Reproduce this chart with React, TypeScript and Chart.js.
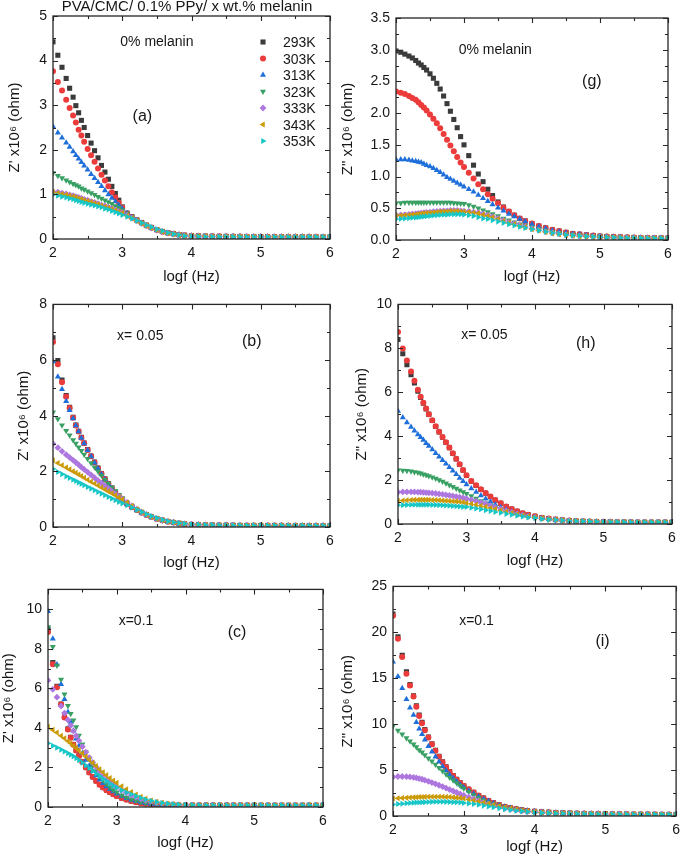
import React, { useEffect, useRef } from "react";
import { Chart, registerables } from "chart.js";
import { drawPoint } from "chart.js/helpers";

Chart.register(...registerables);

const FONT = "'Liberation Sans', Arial, Helvetica, sans-serif";
const INK = "#161616";
const AXIS = "#262626";

// log frequency (x) sample positions shared by all series
const LOGF = [2.0, 2.07, 2.13, 2.19, 2.24, 2.29, 2.33, 2.37, 2.41, 2.45, 2.5, 2.55, 2.6, 2.65, 2.7, 2.75, 2.8, 2.85, 2.9, 2.95, 3.0,
  3.07, 3.14, 3.21, 3.28, 3.35, 3.42, 3.5, 3.58, 3.66, 3.74, 3.82, 3.9,
  4.0, 4.1, 4.2, 4.3, 4.4, 4.5, 4.6, 4.7, 4.8, 4.9, 5.0, 5.1, 5.2, 5.3, 5.4, 5.5, 5.6, 5.7, 5.8, 5.9, 6.0];

const TEMPS = ["293K", "303K", "313K", "323K", "333K", "343K", "353K"];

// (a) Z' 0% melanin
const a293 = [4.42,4.12,3.85,3.6,3.38,3.18,2.99,2.83,2.66,2.5,2.32,2.15,1.98,1.82,1.65,1.5,1.34,1.18,1.02,0.87,0.72, 0.58,0.5,0.43,0.37,0.31,0.26,0.21,0.17,0.14,0.12,0.1,0.085, 0.075,0.07,0.065,0.062,0.06,0.058,0.056,0.055,0.054,0.053,0.052,0.051,0.05,0.05,0.05,0.05,0.049,0.049,0.048,0.048,0.048];
const a303 = [3.76,3.52,3.33,3.12,2.94,2.77,2.61,2.45,2.32,2.18,2.02,1.88,1.73,1.58,1.44,1.31,1.18,1.05,0.93,0.81,0.7, 0.57,0.49,0.42,0.36,0.3,0.25,0.2,0.165,0.135,0.115,0.095,0.082, 0.073,0.068,0.064,0.061,0.059,0.057,0.055,0.054,0.053,0.052,0.051,0.05,0.05,0.049,0.049,0.049,0.048,0.048,0.048,0.047,0.047];
const a313 = [2.52,2.38,2.27,2.16,2.06,1.96,1.88,1.8,1.72,1.64,1.55,1.45,1.36,1.27,1.18,1.09,1.0,0.92,0.84,0.76,0.68, 0.57,0.49,0.42,0.36,0.3,0.25,0.2,0.165,0.135,0.11,0.095,0.08, 0.072,0.067,0.063,0.06,0.058,0.056,0.055,0.054,0.053,0.052,0.051,0.05,0.05,0.049,0.049,0.048,0.048,0.048,0.047,0.047,0.047];
const a323 = [1.48,1.42,1.37,1.32,1.28,1.24,1.21,1.18,1.14,1.11,1.07,1.03,0.99,0.95,0.91,0.87,0.83,0.79,0.74,0.7,0.65, 0.57,0.49,0.42,0.36,0.3,0.25,0.2,0.165,0.135,0.11,0.09,0.08, 0.07,0.066,0.062,0.06,0.058,0.056,0.055,0.054,0.053,0.052,0.051,0.05,0.05,0.049,0.049,0.048,0.048,0.048,0.047,0.047,0.047];
const a333 = [1.06,1.05,1.03,1.01,0.99,0.97,0.95,0.93,0.91,0.89,0.87,0.84,0.82,0.79,0.76,0.74,0.71,0.68,0.65,0.62,0.59, 0.53,0.47,0.41,0.35,0.3,0.25,0.2,0.16,0.13,0.11,0.09,0.08, 0.07,0.065,0.061,0.058,0.056,0.055,0.054,0.053,0.052,0.051,0.05,0.05,0.049,0.049,0.048,0.048,0.048,0.047,0.047,0.047,0.046];
const a343 = [1.04,1.03,1.01,0.99,0.97,0.95,0.93,0.91,0.89,0.87,0.85,0.83,0.8,0.78,0.75,0.72,0.7,0.67,0.64,0.61,0.58, 0.52,0.47,0.41,0.35,0.3,0.25,0.2,0.16,0.13,0.11,0.09,0.08, 0.07,0.065,0.061,0.058,0.056,0.055,0.054,0.053,0.052,0.051,0.05,0.05,0.049,0.049,0.048,0.048,0.048,0.047,0.047,0.047,0.046];
const a353 = [0.99,0.97,0.95,0.93,0.91,0.89,0.87,0.85,0.83,0.81,0.79,0.77,0.75,0.73,0.71,0.68,0.66,0.63,0.6,0.57,0.54, 0.5,0.46,0.41,0.36,0.31,0.27,0.22,0.18,0.14,0.11,0.09,0.07, 0.06,0.055,0.052,0.05,0.049,0.048,0.047,0.046,0.046,0.045,0.045,0.045,0.044,0.044,0.044,0.044,0.043,0.043,0.043,0.043,0.043];

// (g) Z'' 0% melanin
const g293 = [2.98,2.96,2.93,2.9,2.87,2.83,2.79,2.76,2.72,2.68,2.62,2.55,2.47,2.38,2.27,2.15,2.03,1.9,1.77,1.63,1.5, 1.33,1.18,1.04,0.92,0.8,0.7,0.6,0.52,0.45,0.39,0.34,0.3, 0.26,0.22,0.19,0.16,0.14,0.12,0.1,0.09,0.08,0.07,0.06,0.055,0.05,0.046,0.042,0.04,0.037,0.035,0.033,0.031,0.03];
const g303 = [2.34,2.32,2.3,2.27,2.24,2.21,2.17,2.13,2.09,2.04,1.98,1.91,1.84,1.76,1.67,1.58,1.49,1.4,1.31,1.22,1.15, 1.06,0.97,0.88,0.8,0.72,0.65,0.58,0.51,0.45,0.39,0.34,0.3, 0.26,0.22,0.19,0.16,0.14,0.12,0.1,0.09,0.08,0.07,0.06,0.055,0.05,0.046,0.042,0.04,0.037,0.035,0.033,0.031,0.03];
const g313 = [1.27,1.27,1.27,1.26,1.25,1.24,1.23,1.22,1.2,1.18,1.16,1.13,1.1,1.07,1.03,0.99,0.96,0.93,0.9,0.87,0.84, 0.8,0.76,0.71,0.66,0.61,0.56,0.51,0.46,0.41,0.37,0.33,0.29, 0.25,0.21,0.18,0.15,0.13,0.11,0.095,0.085,0.075,0.065,0.058,0.052,0.047,0.043,0.04,0.037,0.035,0.033,0.031,0.03,0.029];
const g323 = [0.58,0.585,0.59,0.59,0.59,0.59,0.59,0.59,0.59,0.59,0.59,0.59,0.59,0.59,0.59,0.59,0.59,0.585,0.58,0.575,0.57, 0.55,0.53,0.5,0.47,0.44,0.41,0.38,0.34,0.31,0.28,0.25,0.23, 0.2,0.17,0.15,0.13,0.11,0.095,0.085,0.075,0.065,0.058,0.052,0.047,0.043,0.04,0.037,0.035,0.033,0.031,0.03,0.029,0.028];
const g333 = [0.39,0.395,0.4,0.405,0.41,0.415,0.42,0.425,0.43,0.435,0.44,0.445,0.45,0.455,0.46,0.46,0.465,0.465,0.465,0.46,0.455, 0.45,0.44,0.43,0.41,0.39,0.37,0.34,0.31,0.28,0.26,0.23,0.21, 0.18,0.155,0.13,0.11,0.095,0.08,0.07,0.062,0.055,0.05,0.045,0.041,0.038,0.035,0.033,0.031,0.03,0.029,0.028,0.027,0.026];
const g343 = [0.38,0.385,0.39,0.395,0.4,0.405,0.41,0.415,0.42,0.425,0.43,0.435,0.44,0.445,0.45,0.45,0.455,0.455,0.455,0.45,0.445, 0.44,0.43,0.42,0.4,0.38,0.36,0.33,0.3,0.27,0.25,0.22,0.2, 0.17,0.15,0.125,0.105,0.09,0.078,0.068,0.06,0.054,0.049,0.044,0.04,0.037,0.035,0.033,0.031,0.03,0.029,0.028,0.027,0.026];
const g353 = [0.33,0.335,0.34,0.345,0.35,0.355,0.36,0.365,0.37,0.375,0.38,0.385,0.39,0.395,0.4,0.4,0.405,0.405,0.405,0.405,0.4, 0.39,0.38,0.36,0.34,0.33,0.31,0.29,0.27,0.25,0.23,0.21,0.19, 0.17,0.15,0.13,0.11,0.095,0.08,0.07,0.062,0.055,0.05,0.045,0.041,0.038,0.035,0.033,0.031,0.03,0.029,0.028,0.027,0.026];

// (b) Z' x = 0.05
const b293 = [6.8,5.98,5.28,4.72,4.3,3.94,3.66,3.44,3.22,3.02,2.78,2.55,2.33,2.12,1.92,1.73,1.56,1.4,1.25,1.11,0.98, 0.84,0.72,0.62,0.52,0.44,0.37,0.3,0.24,0.2,0.16,0.13,0.11, 0.09,0.08,0.072,0.066,0.062,0.059,0.057,0.055,0.054,0.053,0.052,0.051,0.05,0.05,0.049,0.049,0.048,0.048,0.047,0.047,0.047];
const b303 = [6.65,5.85,5.2,4.68,4.28,3.93,3.65,3.43,3.21,3.01,2.77,2.54,2.32,2.11,1.91,1.72,1.55,1.39,1.24,1.1,0.97, 0.83,0.71,0.61,0.51,0.43,0.36,0.29,0.24,0.19,0.16,0.13,0.11, 0.09,0.08,0.072,0.066,0.062,0.059,0.057,0.055,0.054,0.053,0.052,0.051,0.05,0.05,0.049,0.049,0.048,0.048,0.047,0.047,0.047];
const b313 = [5.95,5.4,4.95,4.52,4.2,3.9,3.65,3.43,3.2,3.0,2.76,2.53,2.31,2.1,1.9,1.71,1.54,1.38,1.23,1.1,0.97, 0.83,0.71,0.61,0.51,0.43,0.36,0.29,0.24,0.19,0.16,0.13,0.11, 0.09,0.08,0.072,0.066,0.062,0.059,0.057,0.055,0.054,0.053,0.052,0.051,0.05,0.05,0.049,0.049,0.048,0.048,0.047,0.047,0.047];
const b323 = [4.12,3.88,3.66,3.46,3.3,3.13,3.0,2.87,2.74,2.61,2.45,2.3,2.15,2.0,1.85,1.7,1.56,1.42,1.29,1.16,1.04, 0.88,0.75,0.63,0.53,0.44,0.37,0.3,0.24,0.2,0.16,0.13,0.11, 0.09,0.08,0.072,0.066,0.062,0.059,0.057,0.055,0.054,0.053,0.052,0.051,0.05,0.05,0.049,0.049,0.048,0.048,0.047,0.047,0.047];
const b333 = [2.99,2.85,2.72,2.6,2.5,2.4,2.32,2.24,2.15,2.07,1.97,1.87,1.77,1.67,1.57,1.47,1.38,1.28,1.19,1.1,1.01, 0.88,0.76,0.64,0.54,0.45,0.37,0.3,0.24,0.2,0.16,0.13,0.11, 0.09,0.08,0.072,0.066,0.062,0.059,0.057,0.055,0.054,0.053,0.052,0.051,0.05,0.05,0.049,0.049,0.048,0.048,0.047,0.047,0.047];
const b343 = [2.4,2.3,2.22,2.14,2.07,2.0,1.95,1.89,1.83,1.77,1.7,1.63,1.56,1.49,1.42,1.35,1.28,1.21,1.14,1.07,1.0, 0.88,0.76,0.64,0.54,0.45,0.37,0.3,0.24,0.2,0.16,0.13,0.11, 0.09,0.08,0.072,0.066,0.062,0.059,0.057,0.055,0.054,0.053,0.052,0.051,0.05,0.05,0.049,0.049,0.048,0.048,0.047,0.047,0.047];
const b353 = [2.08,1.98,1.9,1.82,1.76,1.7,1.65,1.6,1.55,1.5,1.44,1.38,1.32,1.26,1.2,1.14,1.08,1.02,0.96,0.9,0.85, 0.78,0.7,0.62,0.54,0.46,0.39,0.32,0.26,0.21,0.17,0.14,0.12, 0.1,0.085,0.075,0.068,0.063,0.06,0.058,0.056,0.055,0.054,0.053,0.052,0.051,0.05,0.05,0.049,0.049,0.048,0.048,0.048,0.047];

// (h) Z'' x = 0.05
const h293 = [8.4,7.75,7.25,6.8,6.42,6.05,5.76,5.5,5.24,4.99,4.71,4.44,4.19,3.95,3.71,3.47,3.21,2.96,2.71,2.45,2.21, 1.95,1.75,1.57,1.4,1.24,1.08,0.94,0.8,0.68,0.58,0.49,0.42, 0.35,0.29,0.25,0.21,0.18,0.16,0.14,0.125,0.115,0.105,0.1,0.095,0.09,0.087,0.084,0.082,0.08,0.078,0.076,0.075,0.074];
const h303 = [8.74,7.99,7.45,6.95,6.52,6.11,5.8,5.52,5.26,5.0,4.72,4.45,4.2,3.96,3.72,3.48,3.22,2.97,2.72,2.46,2.22, 1.96,1.76,1.58,1.41,1.25,1.09,0.94,0.8,0.68,0.58,0.49,0.42, 0.35,0.29,0.25,0.21,0.18,0.16,0.14,0.125,0.115,0.105,0.1,0.095,0.09,0.087,0.084,0.082,0.08,0.078,0.076,0.075,0.074];
const h313 = [5.15,4.85,4.62,4.42,4.25,4.08,3.95,3.82,3.68,3.55,3.39,3.22,3.06,2.9,2.74,2.58,2.42,2.26,2.1,1.95,1.8, 1.62,1.46,1.3,1.15,1.01,0.88,0.76,0.65,0.56,0.48,0.41,0.36, 0.31,0.26,0.22,0.19,0.17,0.15,0.13,0.12,0.11,0.1,0.095,0.09,0.087,0.084,0.082,0.08,0.078,0.076,0.075,0.074,0.073];
const h323 = [2.45,2.44,2.42,2.4,2.37,2.34,2.31,2.27,2.23,2.19,2.13,2.07,2.0,1.93,1.86,1.78,1.7,1.62,1.54,1.46,1.38, 1.27,1.16,1.05,0.95,0.85,0.76,0.67,0.58,0.51,0.45,0.4,0.35, 0.3,0.26,0.22,0.19,0.17,0.15,0.13,0.12,0.11,0.1,0.095,0.09,0.087,0.084,0.082,0.08,0.078,0.076,0.075,0.074,0.073];
const h333 = [1.45,1.46,1.46,1.46,1.46,1.45,1.45,1.44,1.43,1.42,1.41,1.39,1.37,1.35,1.33,1.3,1.28,1.25,1.22,1.19,1.15, 1.1,1.04,0.98,0.91,0.84,0.76,0.68,0.6,0.53,0.46,0.4,0.35, 0.3,0.26,0.22,0.19,0.17,0.15,0.13,0.12,0.11,0.1,0.095,0.09,0.087,0.084,0.082,0.08,0.078,0.076,0.075,0.074,0.073];
const h343 = [1.05,1.07,1.08,1.09,1.1,1.1,1.1,1.1,1.1,1.1,1.09,1.09,1.08,1.07,1.06,1.05,1.04,1.03,1.01,0.99,0.96, 0.92,0.88,0.83,0.78,0.73,0.68,0.62,0.56,0.5,0.44,0.39,0.34, 0.3,0.26,0.22,0.19,0.17,0.15,0.13,0.12,0.11,0.1,0.095,0.09,0.087,0.084,0.082,0.08,0.078,0.076,0.075,0.074,0.073];
const h353 = [0.85,0.86,0.87,0.88,0.88,0.88,0.88,0.88,0.88,0.88,0.87,0.87,0.86,0.85,0.84,0.83,0.82,0.81,0.8,0.78,0.77, 0.74,0.71,0.67,0.63,0.59,0.55,0.51,0.46,0.42,0.38,0.34,0.3, 0.27,0.23,0.2,0.18,0.16,0.14,0.13,0.12,0.11,0.1,0.095,0.09,0.087,0.084,0.082,0.08,0.078,0.076,0.075,0.074,0.073];

// (c) Z' x = 0.1
const c293 = [9.0,7.3,6.1,5.2,4.55,3.95,3.52,3.16,2.86,2.59,2.29,2.01,1.76,1.53,1.32,1.14,0.99,0.86,0.75,0.65,0.56, 0.46,0.38,0.31,0.25,0.2,0.17,0.14,0.12,0.11,0.1,0.095,0.09, 0.09,0.088,0.087,0.086,0.085,0.085,0.084,0.084,0.083,0.083,0.082,0.082,0.082,0.081,0.081,0.081,0.08,0.08,0.08,0.08,0.08];
const c303 = [8.85,7.22,6.05,5.18,4.52,3.92,3.5,3.15,2.85,2.58,2.28,2.0,1.75,1.52,1.31,1.13,0.98,0.85,0.74,0.64,0.55, 0.45,0.37,0.3,0.24,0.19,0.16,0.13,0.11,0.1,0.095,0.09,0.088, 0.09,0.088,0.087,0.086,0.085,0.085,0.084,0.084,0.083,0.083,0.082,0.082,0.082,0.081,0.081,0.081,0.08,0.08,0.08,0.08,0.08];
const c313 = [9.9,8.5,7.2,6.2,5.45,4.8,4.3,3.85,3.45,3.1,2.72,2.38,2.08,1.82,1.59,1.38,1.2,1.04,0.9,0.78,0.67, 0.54,0.44,0.36,0.29,0.23,0.19,0.15,0.13,0.11,0.1,0.095,0.09, 0.09,0.088,0.087,0.086,0.085,0.085,0.084,0.084,0.083,0.083,0.082,0.082,0.082,0.081,0.081,0.081,0.08,0.08,0.08,0.08,0.08];
const c323 = [9.1,8.1,7.15,6.45,5.7,5.12,4.72,4.39,4.05,3.62,3.17,2.77,2.42,2.1,1.82,1.57,1.35,1.16,1.0,0.86,0.74, 0.6,0.48,0.39,0.31,0.25,0.2,0.16,0.13,0.115,0.1,0.095,0.09, 0.09,0.088,0.087,0.086,0.085,0.085,0.084,0.084,0.083,0.083,0.082,0.082,0.082,0.081,0.081,0.081,0.08,0.08,0.08,0.08,0.08];
const c333 = [6.4,5.95,5.55,5.1,4.75,4.4,4.12,3.85,3.6,3.35,3.05,2.77,2.5,2.25,2.02,1.8,1.6,1.42,1.26,1.12,1.0, 0.85,0.72,0.6,0.5,0.41,0.34,0.27,0.22,0.18,0.15,0.13,0.11, 0.09,0.088,0.087,0.086,0.085,0.085,0.084,0.084,0.083,0.083,0.082,0.082,0.082,0.081,0.081,0.081,0.08,0.08,0.08,0.08,0.08];
const c343 = [4.06,3.9,3.76,3.6,3.47,3.34,3.22,3.1,2.98,2.86,2.71,2.55,2.39,2.23,2.07,1.91,1.76,1.61,1.47,1.34,1.22, 1.05,0.9,0.76,0.63,0.52,0.42,0.33,0.26,0.21,0.17,0.14,0.12, 0.1,0.095,0.092,0.09,0.089,0.088,0.087,0.086,0.086,0.085,0.085,0.084,0.084,0.084,0.083,0.083,0.083,0.082,0.082,0.082,0.082];
const c353 = [3.22,3.1,3.0,2.9,2.81,2.72,2.64,2.56,2.46,2.36,2.24,2.1,1.96,1.82,1.68,1.55,1.42,1.3,1.18,1.07,0.97, 0.85,0.74,0.64,0.55,0.46,0.38,0.31,0.25,0.2,0.17,0.14,0.12, 0.1,0.095,0.092,0.09,0.089,0.088,0.087,0.086,0.086,0.085,0.085,0.084,0.084,0.084,0.083,0.083,0.083,0.082,0.082,0.082,0.082];

// (i) Z'' x = 0.1
const i293 = [22.0,19.5,17.5,15.7,14.3,13.1,12.0,11.0,10.2,9.4,8.6,7.85,7.15,6.5,5.9,5.35,4.85,4.4,4.0,3.62,3.3, 2.92,2.57,2.24,1.95,1.68,1.44,1.22,1.04,0.89,0.77,0.67,0.59, 0.51,0.45,0.41,0.37,0.34,0.31,0.29,0.27,0.25,0.24,0.23,0.22,0.21,0.2,0.19,0.185,0.18,0.175,0.17,0.165,0.16];
const i303 = [21.8,19.3,17.3,15.5,14.2,13.0,11.9,10.9,10.1,9.35,8.55,7.8,7.1,6.45,5.85,5.3,4.8,4.35,3.95,3.6,3.27, 2.9,2.55,2.22,1.93,1.66,1.42,1.2,1.02,0.87,0.75,0.65,0.57, 0.5,0.44,0.4,0.36,0.33,0.3,0.28,0.26,0.25,0.24,0.23,0.22,0.21,0.2,0.19,0.185,0.18,0.175,0.17,0.165,0.16];
const i313 = [16.8,15.2,13.9,12.7,11.8,11.0,10.2,9.5,8.9,8.3,7.6,7.0,6.45,5.9,5.4,4.95,4.5,4.1,3.75,3.4,3.1, 2.75,2.42,2.12,1.85,1.6,1.38,1.17,1.0,0.86,0.74,0.65,0.57, 0.5,0.44,0.4,0.36,0.33,0.3,0.28,0.26,0.25,0.24,0.23,0.22,0.21,0.2,0.19,0.185,0.18,0.175,0.17,0.165,0.16];
const i323 = [9.8,9.3,8.9,8.5,8.15,7.8,7.5,7.2,6.95,6.65,6.3,5.95,5.6,5.25,4.9,4.55,4.2,3.9,3.6,3.3,3.0, 2.65,2.3,2.0,1.72,1.48,1.27,1.08,0.92,0.79,0.68,0.6,0.53, 0.46,0.41,0.37,0.34,0.31,0.29,0.27,0.25,0.24,0.23,0.22,0.21,0.2,0.19,0.185,0.18,0.175,0.17,0.165,0.16,0.155];
const i333 = [4.25,4.3,4.3,4.28,4.25,4.2,4.15,4.08,4.0,3.9,3.78,3.64,3.5,3.35,3.2,3.04,2.88,2.72,2.56,2.4,2.25, 2.05,1.85,1.65,1.46,1.28,1.12,0.97,0.84,0.73,0.63,0.55,0.48, 0.42,0.38,0.34,0.31,0.29,0.27,0.25,0.24,0.23,0.22,0.21,0.2,0.19,0.185,0.18,0.175,0.17,0.165,0.16,0.155,0.15];
const i343 = [1.9,1.93,1.96,1.99,2.01,2.03,2.05,2.06,2.07,2.08,2.09,2.1,2.1,2.1,2.09,2.08,2.06,2.03,2.0,1.96,1.9, 1.8,1.7,1.58,1.46,1.33,1.2,1.08,0.95,0.83,0.73,0.63,0.55, 0.45,0.39,0.35,0.32,0.29,0.27,0.25,0.24,0.23,0.22,0.21,0.2,0.19,0.185,0.18,0.175,0.17,0.165,0.16,0.155,0.15];
const i353 = [1.25,1.3,1.34,1.38,1.41,1.44,1.46,1.48,1.5,1.51,1.53,1.54,1.55,1.55,1.55,1.54,1.53,1.51,1.49,1.46,1.42, 1.37,1.3,1.22,1.13,1.04,0.95,0.85,0.75,0.66,0.58,0.51,0.45, 0.39,0.34,0.31,0.28,0.26,0.24,0.23,0.22,0.21,0.2,0.19,0.185,0.18,0.175,0.17,0.165,0.16,0.155,0.15,0.15,0.15];

// styling
const COLORS = ["#3b3b3b", "#ec3b3b", "#1f6fdb", "#38a063", "#ad77df", "#cb9a08", "#17c6c6"];
const SHAPES = ["rect", "circle", "triangle", "triangle", "rectRot", "triangle", "triangle"];
const ROTATION = [0, 0, 0, 180, 0, 270, 90];
const RADIUS = [3.6, 3.0, 3.5, 3.5, 3.4, 3.5, 3.5];

const Z1 = "Z' x10\u2076 (ohm)";
const Z2 = 'Z" x10\u2076 (ohm)';

const PANELS = [
  { key: "a", series: [a293, a303, a313, a323, a333, a343, a353], yMax: 5, yStep: 1, dec: 0, yTitle: Z1, legend: true, title: true,
    notes: [{ text: "0% melanin", x: 3.5, y: 4.42, size: 14 }, { text: "(a)", x: 3.29, y: 2.74, size: 16 }],
    box: { L: 0, T: 0, R: 342, l: 53, t: 16, r: 330, b: 239, yTitleX: 15, xTitleY: 277 } },
  { key: "g", series: [g293, g303, g313, g323, g333, g343, g353], yMax: 3.5, yStep: 0.5, dec: 1, yTitle: Z2,
    notes: [{ text: "0% melanin", x: 3.46, y: 3.0, size: 14 }, { text: "(g)", x: 4.88, y: 2.49, size: 16 }],
    box: { L: 338, T: 0, R: 682, l: 396, t: 18, r: 668, b: 240, yTitleX: 348, xTitleY: 277 } },
  { key: "b", series: [b293, b303, b313, b323, b333, b343, b353], yMax: 8, yStep: 2, dec: 0, yTitle: Z1,
    notes: [{ text: "x= 0.05", x: 3.26, y: 6.86, size: 14 }, { text: "(b)", x: 4.87, y: 6.68, size: 16 }],
    box: { L: 0, T: 290, R: 342, l: 53, t: 303, r: 330, b: 527, yTitleX: 24, xTitleY: 563 } },
  { key: "h", series: [h293, h303, h313, h323, h333, h343, h353], yMax: 10, yStep: 2, dec: 0, yTitle: Z2,
    notes: [{ text: "x= 0.05", x: 3.26, y: 8.6, size: 14 }, { text: "(h)", x: 4.74, y: 8.2, size: 16 }],
    box: { L: 338, T: 290, R: 684, l: 398, t: 302, r: 672, b: 524, yTitleX: 362, xTitleY: 561 } },
  { key: "c", series: [c293, c303, c313, c323, c333, c343, c353], yMax: 11, yStep: 2, dec: 0, yTitle: Z1,
    notes: [{ text: "x=0.1", x: 3.28, y: 9.4, size: 14 }, { text: "(c)", x: 4.75, y: 8.8, size: 16 }],
    box: { L: 0, T: 575, R: 335, l: 48, t: 585, r: 323, b: 807, yTitleX: 9, xTitleY: 843 } },
  { key: "i", series: [i293, i303, i313, i323, i333, i343, i353], yMax: 25, yStep: 5, dec: 0, yTitle: Z2,
    notes: [{ text: "x=0.1", x: 3.18, y: 21.2, size: 14 }, { text: "(i)", x: 4.96, y: 19.0, size: 16 }],
    box: { L: 338, T: 572, R: 686, l: 393, t: 582, r: 681, b: 816, yTitleX: 348, xTitleY: 847 } },
];

function minorsOf(vals: number[], max: number) {
  const out: number[] = [];
  for (let k = 0; k < vals.length - 1; k++) out.push((vals[k] + vals[k + 1]) / 2);
  if (vals.length > 1) {
    const step = vals[1] - vals[0];
    const last = vals[vals.length - 1];
    if (max - last > step / 2 + 1e-9) out.push(last + step / 2);
  }
  return out;
}

function decoPlugin(p: any) {
  return {
    id: "deco_" + p.key,
    afterDatasetsDraw(chart: any) {
      const { ctx, chartArea: ca } = chart;
      const xs = chart.scales.x;
      const ys = chart.scales.y;
      ctx.save();
      ctx.strokeStyle = AXIS;
      ctx.lineWidth = 1.3;
      ctx.strokeRect(ca.left, ca.top, ca.right - ca.left, ca.bottom - ca.top);
      ctx.lineWidth = 1.1;
      ctx.beginPath();
      const xMaj = xs.ticks.map((tk: any) => tk.value);
      const yMaj = ys.ticks.map((tk: any) => tk.value);
      const xTick = (v: number, len: number) => {
        const px = Math.round(xs.getPixelForValue(v)) + 0.5;
        ctx.moveTo(px, ca.bottom); ctx.lineTo(px, ca.bottom - len);
        ctx.moveTo(px, ca.top); ctx.lineTo(px, ca.top + len);
      };
      const yTick = (v: number, len: number) => {
        const py = Math.round(ys.getPixelForValue(v)) + 0.5;
        ctx.moveTo(ca.left, py); ctx.lineTo(ca.left + len, py);
        ctx.moveTo(ca.right, py); ctx.lineTo(ca.right - len, py);
      };
      xMaj.forEach((v: number) => xTick(v, 5));
      minorsOf(xMaj, xs.max).forEach((v) => xTick(v, 3));
      yMaj.forEach((v: number) => yTick(v, 5));
      minorsOf(yMaj, ys.max).forEach((v) => yTick(v, 3));
      ctx.stroke();
      ctx.restore();
    },
    afterDraw(chart: any) {
      const { ctx, chartArea: ca } = chart;
      const xs = chart.scales.x;
      const ys = chart.scales.y;
      ctx.save();
      ctx.fillStyle = INK;
      ctx.textAlign = "center";
      ctx.textBaseline = "middle";
      p.notes.forEach((n: any) => {
        ctx.font = `${n.size}px ${FONT}`;
        ctx.fillText(n.text, xs.getPixelForValue(n.x), ys.getPixelForValue(n.y));
      });
      if (p.legend) {
        const ds = chart.data.datasets;
        ds.forEach((d: any, k: number) => {
          const cy = ca.top + 26 + k * 16.5;
          const cx = ca.left + 210;
          ctx.fillStyle = COLORS[k];
          drawPoint(ctx, { pointStyle: SHAPES[k], rotation: ROTATION[k], radius: RADIUS[k], borderWidth: 0 } as any, cx, cy);
          ctx.fillStyle = INK;
          ctx.font = `14px ${FONT}`;
          ctx.textAlign = "left";
          ctx.textBaseline = "alphabetic";
          ctx.fillText(d.label, cx + 20, cy + 5);
        });
      }
      if (p.title) {
        ctx.fillStyle = INK;
        ctx.font = `15px ${FONT}`;
        ctx.textAlign = "center";
        ctx.textBaseline = "alphabetic";
        ctx.fillText("PVA/CMC/ 0.1% PPy/ x wt.% melanin", 187, 10.5);
      }
      ctx.restore();
    },
  };
}

function Panel({ p }: { p: any }) {
  const ref = useRef<HTMLCanvasElement | null>(null);
  const { L, T, R, l, t, r, b, yTitleX, xTitleY } = p.box;
  const W = R - L;
  const H = xTitleY + 11 - T;
  useEffect(() => {
    const canvas = ref.current;
    if (!canvas) return;
    const datasets = p.series.map((ys: number[], i: number) => ({
      label: TEMPS[i],
      data: LOGF.map((x, j) => ({ x, y: ys[j] })),
      showLine: false,
      pointStyle: SHAPES[i],
      pointRotation: ROTATION[i],
      pointRadius: RADIUS[i],
      pointHoverRadius: RADIUS[i],
      pointBackgroundColor: COLORS[i],
      pointBorderColor: COLORS[i],
      pointBorderWidth: 0,
      backgroundColor: COLORS[i],
      borderColor: COLORS[i],
      borderWidth: 0,
      order: 6 - i,
      clip: 0,
    }));
    const tickFont = { size: 14, family: FONT };
    const titleFont = { size: 15, family: FONT };
    const chart = new Chart(canvas, {
      type: "scatter",
      data: { datasets },
      options: {
        responsive: false,
        animation: false,
        devicePixelRatio: 1,
        events: [],
        layout: { padding: { left: 0, top: t - T, right: R - r, bottom: 0 } },
        plugins: { legend: { display: false }, tooltip: { enabled: false } },
        scales: {
          x: {
            type: "linear",
            position: "bottom",
            min: 2,
            max: 6,
            grid: { display: false, drawTicks: false },
            border: { display: false },
            ticks: { stepSize: 1, padding: 6, color: INK, font: tickFont, includeBounds: false, maxRotation: 0 },
            title: { display: true, text: "logf (Hz)", color: INK, font: titleFont, padding: { top: 0, bottom: 2 } },
            afterFit: (s: any) => { s.height = T + H - b; },
          },
          y: {
            type: "linear",
            position: "left",
            min: 0,
            max: p.yMax,
            grid: { display: false, drawTicks: false },
            border: { display: false },
            ticks: {
              stepSize: p.yStep,
              padding: 6,
              color: INK,
              font: tickFont,
              includeBounds: false,
              callback: (v: any) => Number(v).toFixed(p.dec),
            },
            title: { display: true, text: p.yTitle, color: INK, font: titleFont, padding: { top: Math.max(0, yTitleX - L - 9), bottom: 0 } },
            afterFit: (s: any) => { s.width = l - L; },
          },
        },
      } as any,
      plugins: [decoPlugin(p)],
    });
    return () => chart.destroy();
  }, []);
  return (
    <canvas
      ref={ref}
      width={W}
      height={H}
      style={{ position: "absolute", left: L, top: T, width: W, height: H }}
    />
  );
}

export default function App() {
  return (
    <div style={{ position: "absolute", left: 0, top: 0, width: 685, height: 863, overflow: "hidden", background: "#fff" }}>
      {PANELS.map((p) => (
        <Panel key={p.key} p={p} />
      ))}
    </div>
  );
}
